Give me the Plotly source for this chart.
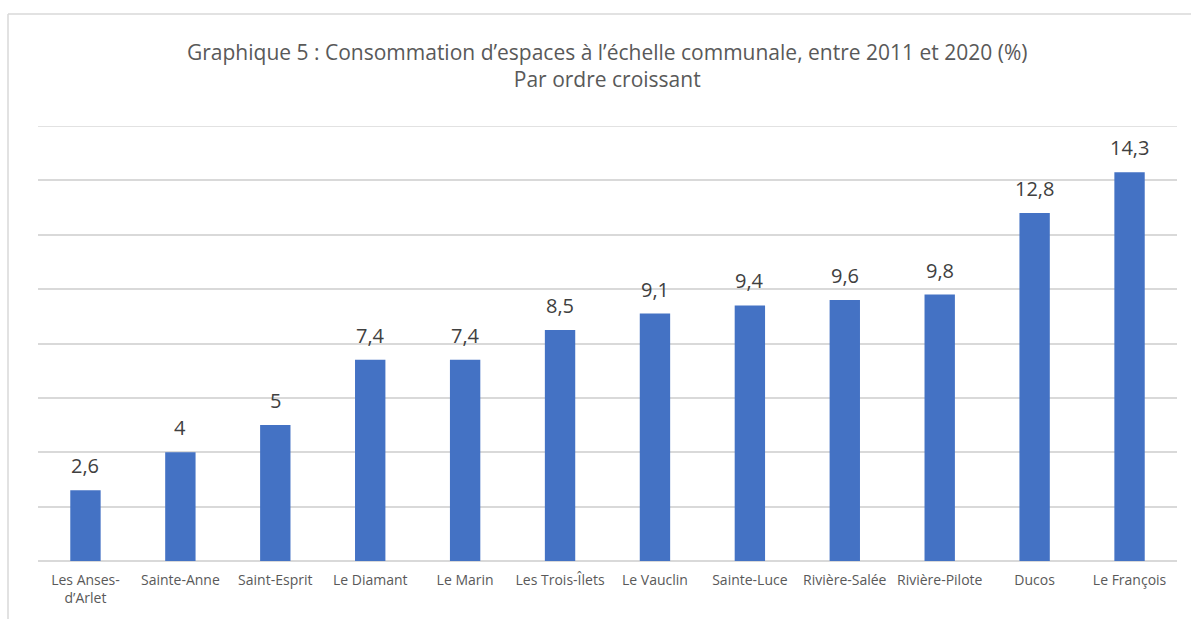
import plotly.graph_objects as go

communes = ["Les Anses-<br>d’Arlet", "Sainte-Anne", "Saint-Esprit", "Le Diamant", "Le Marin",
            "Les Trois-Îlets", "Le Vauclin", "Sainte-Luce", "Rivière-Salée", "Rivière-Pilote",
            "Ducos", "Le François"]
consommation = [2.6, 4, 5, 7.4, 7.4, 8.5, 9.1, 9.4, 9.6, 9.8, 12.8, 14.3]
y_ticks = [0, 2, 4, 6, 8, 10, 12, 14, 16]

labels = [f"{v:g}".replace(".", ",") for v in consommation]

W, H = 1191, 619
L, R, T, B = 38, 14, 126, 58
pw, ph = W - L - R, H - T - B

def px_x(x):
    return (x - L) / pw

def px_y(y):
    return (H - B - y) / ph

grid = "#d9d9d9"

fig = go.Figure(go.Bar(
    x=communes, y=consommation,
    marker=dict(color="#4472C4", line=dict(width=0)),
    width=0.32,
))

# value labels above each bar
value_notes = [dict(x=c, y=v, xref="x", yref="y", text=t, showarrow=False,
                    yanchor="bottom", yshift=9,
                    font=dict(family="Open Sans", size=20, color="#404040"))
               for c, v, t in zip(communes, consommation, labels)]

title_note = dict(
    text="Graphique 5 : Consommation d’espaces à l’échelle communale, entre 2011 et 2020 (%)<br>Par ordre croissant",
    xref="paper", yref="paper", x=px_x(607), y=px_y(65),
    xanchor="center", yanchor="middle", showarrow=False,
    font=dict(family="Open Sans", size=21, color="#595959"),
)

fig.update_layout(
    width=W, height=H,
    margin=dict(l=L, r=R, t=T, b=B),
    paper_bgcolor="white", plot_bgcolor="white",
    showlegend=False,
    font=dict(family="Open Sans", color="#595959"),
    xaxis=dict(tickfont=dict(size=14, color="#595959"), showgrid=False,
               showline=False, ticks="", tickangle=0, ticklabelstandoff=9),
    yaxis=dict(range=[0, 16], tickvals=y_ticks, showticklabels=False,
               showgrid=True, gridcolor=grid, gridwidth=1.5,
               zeroline=True, zerolinecolor=grid, zerolinewidth=1.5),
    annotations=[title_note] + value_notes,
    shapes=[
        dict(type="line", xref="paper", yref="y", x0=0, x1=1, y0=y_ticks[-1], y1=y_ticks[-1],
             line=dict(color=grid, width=1.5), layer="below"),
        dict(type="line", xref="paper", yref="paper", x0=px_x(8), x1=px_x(W + 5),
             y0=px_y(14), y1=px_y(14), line=dict(color=grid, width=1.5)),
        dict(type="line", xref="paper", yref="paper", x0=px_x(8), x1=px_x(8),
             y0=px_y(14), y1=px_y(H + 5), line=dict(color=grid, width=1.5)),
    ],
)

fig.write_html("out.html")
